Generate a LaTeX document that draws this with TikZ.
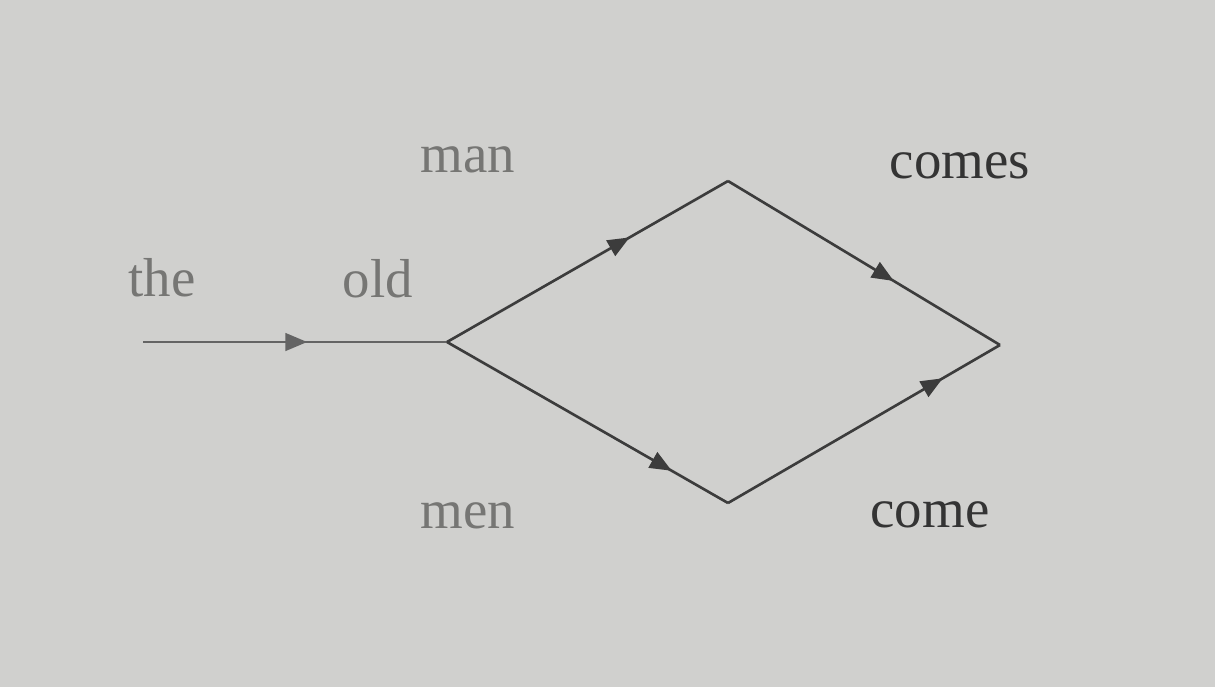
\documentclass[tikz,border=0pt]{standalone}
\usepackage{fontspec}
\setmainfont{Liberation Serif}
\usetikzlibrary{arrows.meta,decorations.markings}
\definecolor{bg}{RGB}{208,208,206}
\definecolor{lightink}{RGB}{118,118,116}
\definecolor{darkink}{RGB}{52,52,52}
\definecolor{lineink}{RGB}{60,60,60}
\definecolor{firstink}{RGB}{100,100,100}
\tikzset{
  word/.style={anchor=base,inner sep=0pt,font=\fontsize{15.6}{18}\selectfont},
  edge/.style={draw=lineink,line width=0.75pt},
  midarrow/.style={postaction={decorate},decoration={markings,
     mark=at position #1 with {\arrow{Triangle[length=6.2pt,width=5pt]}}}}
}
\begin{document}
\begin{tikzpicture}[x=0.01cm,y=-0.01cm]
\fill[bg] (0,0) rectangle (1215,687);
\useasboundingbox (0,0) rectangle (1215,687);
\coordinate (s) at (143,342);
\coordinate (j) at (447,342);
\coordinate (t) at (728,181);
\coordinate (r) at (1000,345);
\coordinate (b) at (728,503);
\node[word,text=lightink] (the) at (162,296) {the};
\node[word,text=lightink] (old) at (378,297) {old};
\node[word,text=lightink] (man) at (468,172) {man};
\node[word,text=lightink] (men) at (468,528) {men};
\node[word,text=darkink] (comes) at (960,178) {comes};
\node[word,text=darkink] (come) at (930,527) {come};
\draw[edge,draw=firstink,midarrow=0.54] (s) -- (j);
\draw[edge,midarrow=0.65] (j) -- (t);
\draw[edge,midarrow=0.61] (t) -- (r);
\draw[edge,midarrow=0.80] (j) -- (b);
\draw[edge,midarrow=0.79] (b) -- (r);
\end{tikzpicture}
\end{document}
